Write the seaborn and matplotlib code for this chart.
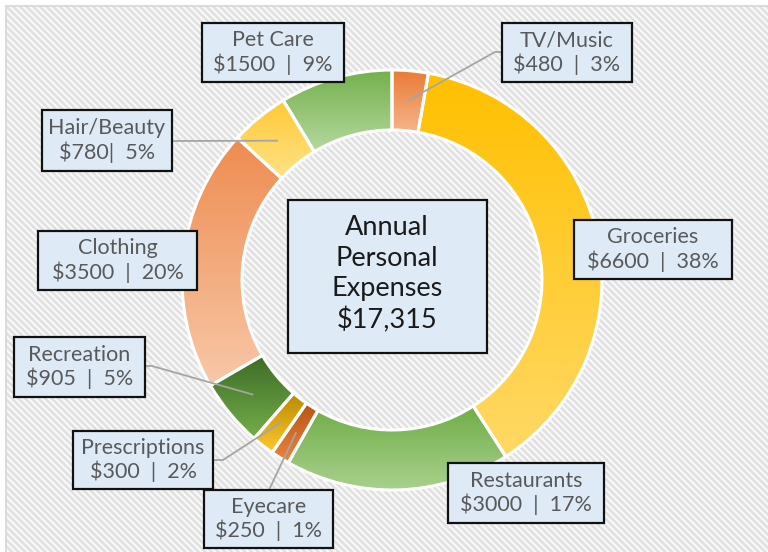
import numpy as np
import matplotlib
matplotlib.use("Agg")
import matplotlib.pyplot as plt
import seaborn as sns
from matplotlib.patches import Rectangle

# ---------------- data ----------------
categories = ["TV/Music", "Groceries", "Restaurants", "Eyecare", "Prescriptions",
              "Recreation", "Clothing", "Hair/Beauty", "Pet Care"]
amounts = [480, 6600, 3000, 250, 300, 905, 3500, 780, 1500]
amount_labels = ["$480", "$6600", "$3000", "$250", "$300", "$905", "$3500", "$780", "$1500"]
percent_labels = ["3%", "38%", "17%", "1%", "2%", "5%", "20%", "5%", "9%"]
separators = ["  |  ", "  |  ", "  |  ", "  |  ", "  |  ", "  |  ", "  |  ", "|  ", "  |  "]
center_lines = ["Annual", "Personal", "Expenses", "$17,315"]

# gradient colours (top -> bottom) for each slice
top_colors = ["#EA7A34", "#FFC000", "#70AD47", "#B85414", "#B88A00",
              "#3E6A26", "#EE8C50", "#FFC935", "#74B04D"]
bottom_colors = ["#F5B48C", "#FFD966", "#A9D18E", "#EE8540", "#FFC72C",
                 "#72AE4A", "#F8C8A8", "#FFE285", "#B6D99F"]

# ---------------- style ----------------
sns.set_theme(style="white")
plt.rcParams["font.family"] = ["Lato", "DejaVu Sans"]
plt.rcParams["hatch.linewidth"] = 1.9

W, H = 768, 552
fig = plt.figure(figsize=(W / 100, H / 100), dpi=100, facecolor="white")
ax = fig.add_axes([0, 0, 1, 1])
ax.set_axis_off()


def Y(y):
    return H - y


# background with diagonal hatching
ax.add_patch(Rectangle((6, 0), W - 6, H - 6, facecolor="#FAFAFA", edgecolor="#E1E1E1",
                       hatch="\\\\\\\\\\", linewidth=0, zorder=0))
ax.add_patch(Rectangle((6, -5), W, H - 1, facecolor="none", edgecolor="#D6D6D6",
                       linewidth=1.2, zorder=0.5))

# donut
cx, cy = 392, Y(280)
R, width = 210, 60
wedges, _ = ax.pie(amounts, radius=R, center=(cx, cy), startangle=90, counterclock=False,
                   colors=top_colors,
                   wedgeprops=dict(width=width, edgecolor="white", linewidth=2.2))

for w, c0, c1 in zip(wedges, top_colors, bottom_colors):
    ext = w.get_path().get_extents()
    grad = np.array(sns.blend_palette([c0, c1], n_colors=256))[:, None, :]
    im = ax.imshow(grad, extent=(ext.x0, ext.x1, ext.y0, ext.y1), origin="upper",
                   aspect="auto", interpolation="bilinear", zorder=2)
    im.set_clip_path(w)
    w.set_facecolor("none")
    w.set_zorder(3)

# label boxes: (x0, y0, x1, y1) in pixel coords
boxes = {
    "TV/Music": (502, 23, 632, 82),
    "Groceries": (574, 220, 732, 279),
    "Restaurants": (448, 463, 604, 523),
    "Eyecare": (204, 490, 333, 548),
    "Prescriptions": (73, 431, 213, 489),
    "Recreation": (14, 337, 145, 397),
    "Clothing": (38, 231, 197, 290),
    "Hair/Beauty": (42, 110, 172, 171),
    "Pet Care": (202, 23, 344, 82),
}
# leader line start points (box edge, optional elbow)
leaders = {
    "TV/Music": [(502, 52), (495, 52)],
    "Hair/Beauty": [(172, 141)],
    "Recreation": [(145, 366), (152, 366)],
    "Prescriptions": [(213, 460), (223, 460)],
    "Eyecare": [(269, 490)],
}

total = sum(amounts)
cum = np.cumsum([0] + amounts)
r_mid = R - width / 2
for i, cat in enumerate(categories):
    frac_mid = (cum[i] + amounts[i] / 2) / total
    ang = np.deg2rad(90 - 360 * frac_mid)
    px, py = cx + r_mid * np.cos(ang), cy + r_mid * np.sin(ang)
    if cat in leaders:
        pts = [(x, Y(y)) for x, y in leaders[cat]] + [(px, py)]
        xs, ys = zip(*pts)
        ax.plot(xs, ys, color="#A5A5A5", lw=1.3, zorder=4, solid_capstyle="butt")
    x0, y0, x1, y1 = boxes[cat]
    ax.add_patch(Rectangle((x0, Y(y1)), x1 - x0, y1 - y0, facecolor="#DEEBF7",
                           edgecolor="#111111", linewidth=1.6, zorder=5))
    label = f"{cat}\n{amount_labels[i]}{separators[i]}{percent_labels[i]}"
    ax.text((x0 + x1) / 2, Y((y0 + y1) / 2), label, ha="center", va="center",
            multialignment="center", fontsize=15.5, color="#595959",
            linespacing=1.18, zorder=6)

# centre box
ax.add_patch(Rectangle((288, Y(353)), 199, 153, facecolor="#DEEBF7",
                       edgecolor="#111111", linewidth=1.6, zorder=5))
ax.text(387, Y(274), "\n".join(center_lines), ha="center", va="center",
        multialignment="center", fontsize=19.5, color="#1A1A1A",
        linespacing=1.27, zorder=6)

ax.set_xlim(0, W)
ax.set_ylim(0, H)
ax.set_aspect("auto")
fig.savefig("out.png", dpi=100, facecolor="white")
